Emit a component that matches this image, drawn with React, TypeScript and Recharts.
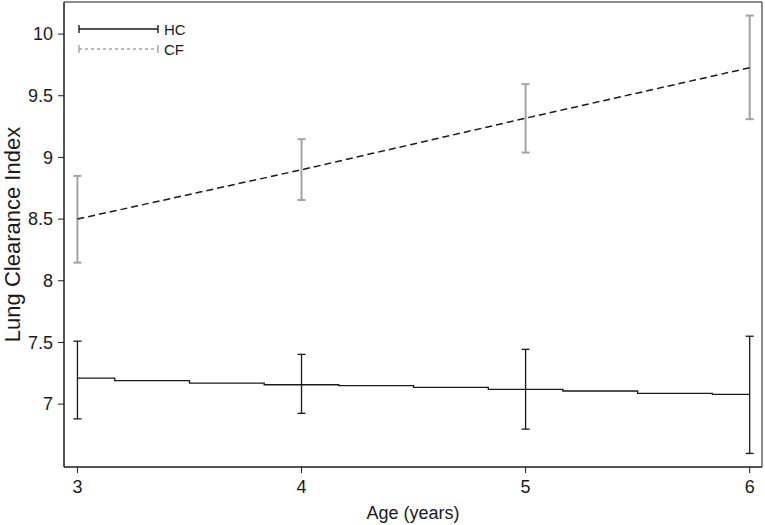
import React from 'react';
import {
  ComposedChart,
  Line,
  ErrorBar,
  XAxis,
  YAxis,
  ReferenceArea,
} from 'recharts';

const ages = [3, 4, 5, 6];

// Healthy controls (HC): means with 95% CI
const hcMean = [7.21, 7.16, 7.12, 7.08];
const hcLow = [6.88, 6.925, 6.797, 6.6];
const hcHigh = [7.51, 7.403, 7.444, 7.55];

// Cystic fibrosis (CF)
const cfMean = [8.5, 8.9, 9.318, 9.727];
const cfLow = [8.147, 8.655, 9.039, 9.31];
const cfHigh = [8.85, 9.148, 9.594, 10.15];

// HC fitted curve, drawn as small steps
const hcStepAges = [3, 3.333, 3.667, 4, 4.333, 4.667, 5, 5.333, 5.667, 6];
const hcStepValues = [7.21, 7.19, 7.17, 7.157, 7.149, 7.136, 7.119, 7.106, 7.087, 7.079];

const xTicks = [3, 4, 5, 6];
const yTicks = [7, 7.5, 8, 8.5, 9, 9.5, 10];

const X_DOMAIN: [number, number] = [2.94, 6.055];
const Y_DOMAIN: [number, number] = [6.49, 10.26];

const hcData = ages.map((x, i) => ({
  x,
  mean: hcMean[i],
  err: [hcMean[i] - hcLow[i], hcHigh[i] - hcMean[i]],
}));

const cfData = ages.map((x, i) => ({
  x,
  mean: cfMean[i],
  err: [cfMean[i] - cfLow[i], cfHigh[i] - cfMean[i]],
}));

const hcStepData = hcStepAges.map((x, i) => ({ x, v: hcStepValues[i] }));

const INK = '#1a1a1a';
const GREY = '#a3a3a3';
const FONT = '"Liberation Sans", Arial, sans-serif';

const LegendBox: React.FC = () => (
  <svg
    width={120}
    height={45}
    style={{ position: 'absolute', left: 75, top: 18, overflow: 'visible' }}
  >
    {/* HC */}
    <line x1={4} x2={83} y1={11} y2={11} stroke={INK} strokeWidth={1.4} />
    <line x1={4} x2={4} y1={7} y2={15} stroke={INK} strokeWidth={1.4} />
    <line x1={83} x2={83} y1={7} y2={15} stroke={INK} strokeWidth={1.4} />
    <text x={89} y={16.5} fontSize={15} fill={INK} fontFamily={FONT}>HC</text>
    {/* CF */}
    <line x1={4} x2={83} y1={31} y2={31} stroke={GREY} strokeWidth={1.4} strokeDasharray="3 3" />
    <line x1={4} x2={4} y1={27} y2={35} stroke={GREY} strokeWidth={1.4} />
    <line x1={83} x2={83} y1={27} y2={35} stroke={GREY} strokeWidth={1.4} />
    <text x={89} y={36.5} fontSize={15} fill={INK} fontFamily={FONT}>CF</text>
  </svg>
);

export default function App() {
  return (
    <div style={{ position: 'relative', width: 765, height: 525, fontFamily: FONT }}>
      <style>{`body { margin: 0; }`}</style>
      <ComposedChart
        width={765}
        height={525}
        margin={{ top: 2, right: 3, bottom: 0, left: 0 }}
      >
        <XAxis
          type="number"
          dataKey="x"
          domain={X_DOMAIN}
          ticks={xTicks}
          allowDataOverflow
          height={58}
          tickSize={6}
          tickMargin={7}
          stroke={INK}
          tick={{ fill: INK, fontSize: 18 }}
          label={{
            value: 'Age (years)',
            position: 'insideBottom',
            offset: 6,
            style: { fill: INK, fontSize: 18 },
          }}
        />
        <YAxis
          type="number"
          domain={Y_DOMAIN}
          ticks={yTicks}
          allowDataOverflow
          width={64}
          tickSize={6}
          tickMargin={5}
          stroke={INK}
          tick={{ fill: INK, fontSize: 18 }}
          label={{
            value: 'Lung Clearance Index',
            angle: -90,
            position: 'insideLeft',
            offset: 12,
            style: { fill: INK, fontSize: 22, textAnchor: 'middle' },
          }}
        />
        <ReferenceArea
          x1={X_DOMAIN[0]}
          x2={X_DOMAIN[1]}
          y1={Y_DOMAIN[0]}
          y2={Y_DOMAIN[1]}
          fill="none"
          fillOpacity={0}
          stroke={INK}
          strokeWidth={1}
        />
        <Line
          data={cfData}
          dataKey="mean"
          type="linear"
          stroke="none"
          dot={false}
          activeDot={false}
          isAnimationActive={false}
        >
          <ErrorBar dataKey="err" direction="y" width={4} stroke={GREY} strokeWidth={2} />
        </Line>
        <Line
          data={cfData}
          dataKey="mean"
          type="linear"
          stroke={INK}
          strokeWidth={1.5}
          strokeDasharray="7 4"
          dot={false}
          activeDot={false}
          isAnimationActive={false}
        />
        <Line
          data={hcStepData}
          dataKey="v"
          type="step"
          stroke={INK}
          strokeWidth={1.3}
          dot={false}
          activeDot={false}
          isAnimationActive={false}
        />
        <Line
          data={hcData}
          dataKey="mean"
          type="linear"
          stroke="none"
          dot={false}
          activeDot={false}
          isAnimationActive={false}
        >
          <ErrorBar dataKey="err" direction="y" width={4} stroke={INK} strokeWidth={1.3} />
        </Line>
      </ComposedChart>
      <LegendBox />
    </div>
  );
}
